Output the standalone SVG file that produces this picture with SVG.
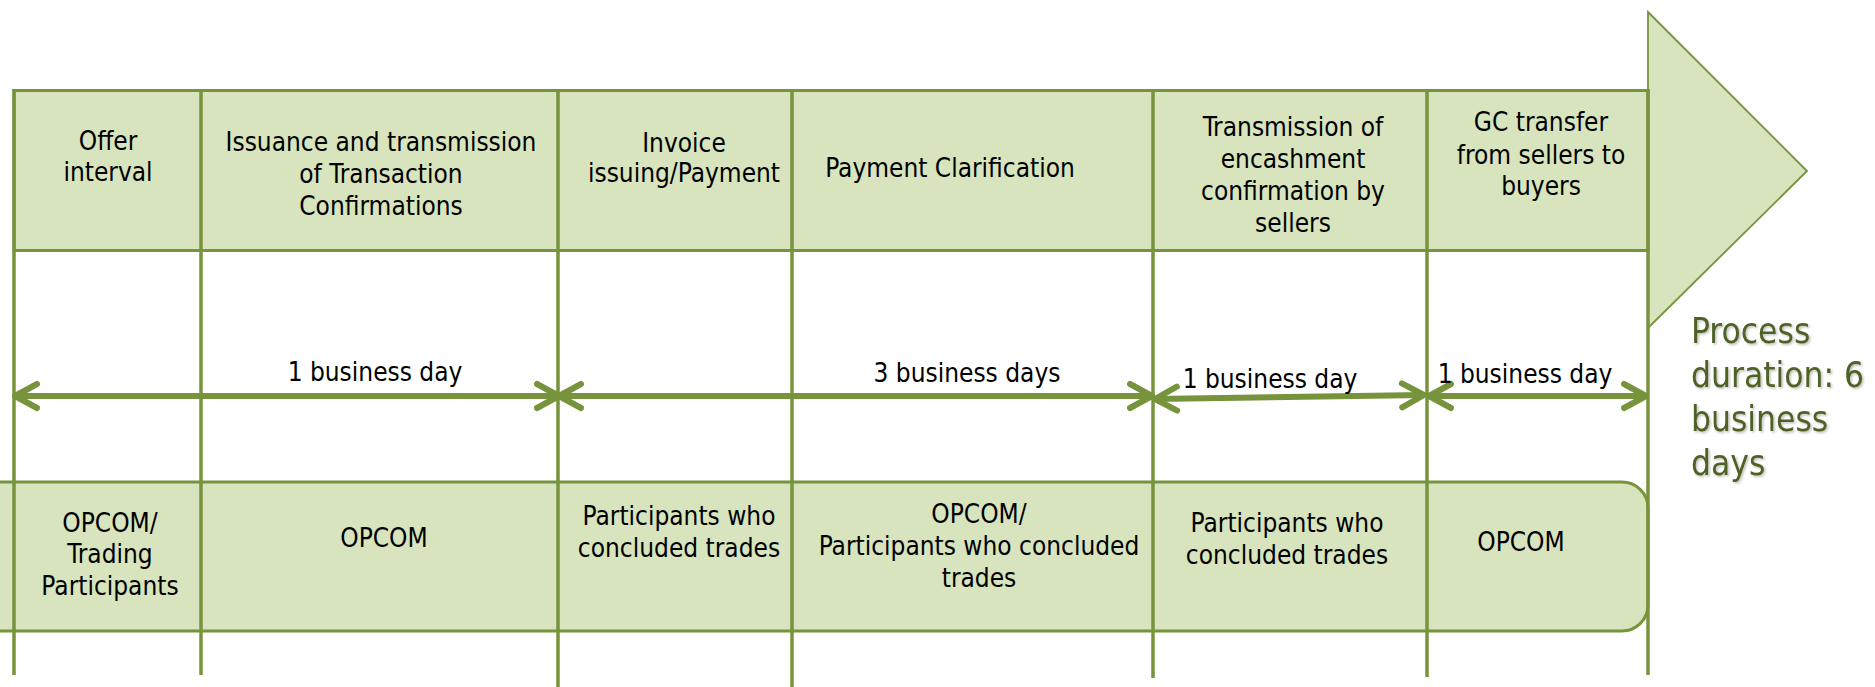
<svg xmlns="http://www.w3.org/2000/svg" width="1875" height="687" viewBox="0 0 1875 687">
<style>
  .band { fill: #D7E4BD; stroke: #77933C; stroke-width: 3; }
  .tri { fill: #D7E4BD; stroke: #77933C; stroke-width: 1.8; }
  .vline { stroke: #77933C; stroke-width: 3.5; fill: none; }
  .arr { stroke: #77933C; stroke-width: 6; fill: none; marker-start: url(#chev); marker-end: url(#chev); }
  .t { font-family: "DejaVu Sans Condensed", "DejaVu Sans", sans-serif; font-stretch: condensed; font-size: 26px; fill: #000; text-anchor: middle; }
  .proc { font-family: "DejaVu Sans Condensed", "DejaVu Sans", sans-serif; font-stretch: condensed; font-size: 35px; fill: #4F6228; filter: url(#sh); }
</style>
<defs>
  <marker id="chev" viewBox="-30 -20 40 40" markerWidth="40" markerHeight="40" refX="0" refY="0" markerUnits="userSpaceOnUse" orient="auto-start-reverse" overflow="visible">
    <path d="M -22 -12 L 0 0 L -22 12" fill="none" stroke="#77933C" stroke-width="6" stroke-linecap="round" stroke-linejoin="round"/>
  </marker>
  <filter id="sh" x="-10%" y="-10%" width="130%" height="140%">
    <feDropShadow dx="1.5" dy="1.5" stdDeviation="0.8" flood-color="#000" flood-opacity="0.25"/>
  </filter>
</defs>

<g id="bands">
  <polygon class="tri" points="1648,12 1807,171 1648,328"/>
  <rect class="band" x="14" y="90.5" width="1634" height="160"/>
  <rect class="band" x="-40" y="482" width="1688" height="149" rx="26" ry="26"/>
</g>

<g id="dividers">
  <line class="vline" x1="14" y1="89" x2="14" y2="675"/>
  <line class="vline" x1="201" y1="89" x2="201" y2="675"/>
  <line class="vline" x1="558" y1="89" x2="558" y2="687"/>
  <line class="vline" x1="792" y1="89" x2="792" y2="687"/>
  <line class="vline" x1="1153" y1="89" x2="1153" y2="678"/>
  <line class="vline" x1="1427" y1="89" x2="1427" y2="677"/>
  <line class="vline" x1="1648" y1="89" x2="1648" y2="675"/>
</g>

<g id="step1">
  <text class="t" x="108" y="150">Offer</text>
  <text class="t" x="108" y="181">interval</text>
</g>
<g id="step2">
  <text class="t" x="381" y="151">Issuance and transmission</text>
  <text class="t" x="381" y="183">of Transaction</text>
  <text class="t" x="381" y="215">Confirmations</text>
</g>
<g id="step3">
  <text class="t" x="684" y="152">Invoice</text>
  <text class="t" x="684" y="182">issuing/Payment</text>
</g>
<g id="step4">
  <text class="t" x="950" y="177">Payment Clarification</text>
</g>
<g id="step5">
  <text class="t" x="1293" y="136">Transmission of</text>
  <text class="t" x="1293" y="168">encashment</text>
  <text class="t" x="1293" y="200">confirmation by</text>
  <text class="t" x="1293" y="232">sellers</text>
</g>
<g id="step6">
  <text class="t" x="1541" y="131">GC transfer</text>
  <text class="t" x="1541" y="164">from sellers to</text>
  <text class="t" x="1541" y="195">buyers</text>
</g>

<g id="resp1">
  <text class="t" x="110" y="532">OPCOM/</text>
  <text class="t" x="110" y="563">Trading</text>
  <text class="t" x="110" y="595">Participants</text>
</g>
<g id="resp2">
  <text class="t" x="384" y="547">OPCOM</text>
</g>
<g id="resp3">
  <text class="t" x="679" y="525">Participants who</text>
  <text class="t" x="679" y="557">concluded trades</text>
</g>
<g id="resp4">
  <text class="t" x="979" y="523">OPCOM/</text>
  <text class="t" x="979" y="555">Participants who concluded</text>
  <text class="t" x="979" y="587">trades</text>
</g>
<g id="resp5">
  <text class="t" x="1287" y="532">Participants who</text>
  <text class="t" x="1287" y="564">concluded trades</text>
</g>
<g id="resp6">
  <text class="t" x="1521" y="551">OPCOM</text>
</g>

<g id="connectors">
  <line class="arr" x1="15" y1="396" x2="559" y2="396"/>
  <line class="arr" x1="559" y1="396" x2="1152" y2="396"/>
  <line class="arr" x1="1155" y1="399" x2="1424" y2="395"/>
  <line class="arr" x1="1429" y1="396" x2="1646" y2="396"/>
</g>

<g id="durations">
  <text class="t" x="375" y="381">1 business day</text>
  <text class="t" x="967" y="382">3 business days</text>
  <text class="t" x="1270" y="388">1 business day</text>
  <text class="t" x="1525" y="383">1 business day</text>
</g>

<g id="total">
  <text class="proc" x="1691" y="343">Process</text>
  <text class="proc" x="1691" y="387">duration: 6</text>
  <text class="proc" x="1691" y="431">business</text>
  <text class="proc" x="1691" y="475">days</text>
</g>
</svg>
